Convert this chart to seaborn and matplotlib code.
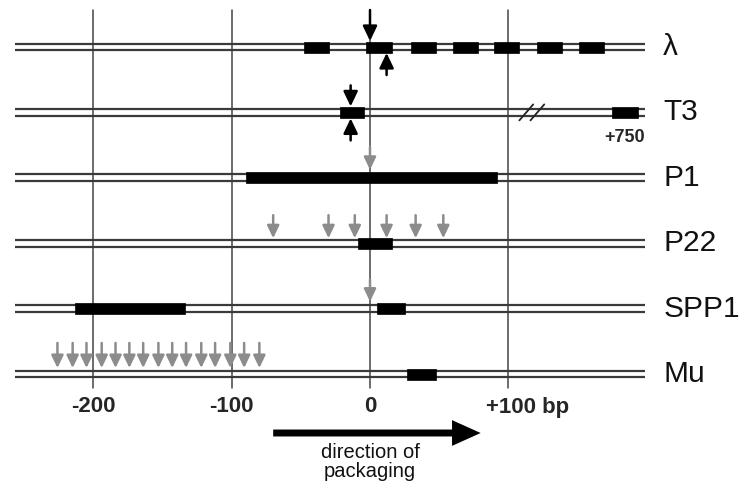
import matplotlib
matplotlib.use("Agg")
import matplotlib.pyplot as plt
import seaborn as sns

# --- data (positions in bp relative to the pac/cos site) ---
phages = ["λ", "T3", "P1", "P22", "SPP1", "Mu"]

lambda_blocks = [(-48, -30), (-3, 16), (30, 48), (60, 78), (90, 108), (121, 139), (151, 169)]
t3_blocks = [(-22, -4), (175, 194)]
p1_blocks = [(-90, 92)]
p22_blocks = [(-9, 16)]
spp1_blocks = [(-213, -134), (5, 25)]
mu_blocks = [(27, 48)]
blocks = [lambda_blocks, t3_blocks, p1_blocks, p22_blocks, spp1_blocks, mu_blocks]

# cut-site arrows: (row, x position, side)
black_arrows = [(0, 0, "above"), (0, 12, "below"), (1, -14, "above"), (1, -14, "below")]
p1_arrows = [0]
p22_arrows = [-70, -30, -11, 12, 33, 53]
spp1_arrows = [0]
mu_arrows = [-226, -215, -205, -194, -184, -174, -164, -153, -143, -133, -122, -112, -101, -91, -80]

grid_ticks = [-200, -100, 0, 100]
tick_labels = ["-200", "-100", "0", "+100 bp"]
dna_start, dna_end = -257, 199
t3_break = 117
packaging_arrow = (-70, 80)

# --- figure ---
sns.set_theme(style="white")
plt.rcParams["font.family"] = ["Liberation Sans", "DejaVu Sans"]

fig = plt.figure(figsize=(7.5, 4.88), dpi=100)
ax = fig.add_axes([0, 0, 1, 1])
PX = 1.383          # pixels per bp
ROW = 65.4          # pixels per row
ax.set_xlim(-370 / PX, 380 / PX)
ax.set_ylim((488 - 47) / ROW, -47 / ROW)
ax.axis("off")


def py(px):
    return px / ROW


# vertical reference lines
for t in grid_ticks:
    ax.plot([t, t], [py(-37), 5 + py(14)], color="#444444", lw=1.1, zorder=1)

for i, name in enumerate(phages):
    # double stranded DNA
    for off in (-3.4, 3.4):
        ax.plot([dna_start, dna_end], [i + py(off)] * 2, color="#3a3a3a", lw=1.6,
                solid_capstyle="butt", zorder=2)
    # sites
    for a, b in blocks[i]:
        ax.barh(i, b - a, left=a, height=py(11), color="black", edgecolor="black",
                linewidth=0.5, zorder=3)
    ax.text(212, i, name, fontsize=21.5, va="center", ha="left", color="#111111")

# T3 break marks and +750 label
for dx in (-4, 4):
    ax.plot([t3_break + dx - 5, t3_break + dx + 5], [1 + py(8), 1 - py(8)],
            color="#222222", lw=1.3, zorder=4)
ax.text(184, 1 + py(25), "+750", fontsize=13, fontweight="bold", ha="center", va="center")


def arrow(x, row, tail, tip, color, scale=15):
    ax.annotate("", xy=(x, row + py(tip)), xytext=(x, row + py(tail)),
                arrowprops=dict(arrowstyle="-|>,head_length=0.5,head_width=0.24",
                                mutation_scale=scale, color=color, lw=1.8,
                                shrinkA=0, shrinkB=0), zorder=5)


for row, x, side in black_arrows:
    if side == "above":
        tail = -37 if row == 0 else -27
        arrow(x, row, tail, -6, "black", 18)
    else:
        arrow(x, row, 28, 6, "black", 18)

gray = "#8c8c8c"
for x in p1_arrows:
    arrow(x, 2, -31, -8, gray)
for x in p22_arrows:
    arrow(x, 3, -28, -5, gray)
for x in spp1_arrows:
    arrow(x, 4, -29, -7, gray)
for x in mu_arrows:
    arrow(x, 5, -31, -6, gray)

# x labels
for t, lab in zip(grid_ticks, tick_labels):
    if lab.endswith("bp"):
        ax.text(t - 16, 5 + py(33), lab, fontsize=16, fontweight="bold", ha="left", va="center")
    else:
        ax.text(t, 5 + py(33), lab, fontsize=16, fontweight="bold", ha="center", va="center")

# direction of packaging
ax.annotate("", xy=(packaging_arrow[1], 5 + py(59)), xytext=(packaging_arrow[0], 5 + py(59)),
            arrowprops=dict(arrowstyle="-|>,head_length=0.8,head_width=0.36",
                            mutation_scale=15, color="black", lw=5, capstyle="butt",
                            joinstyle="miter", shrinkA=0, shrinkB=0))
ax.text(0, 5 + py(88), "direction of\npackaging", fontsize=14.5, ha="center", va="center",
        linespacing=0.95, color="#111111")

fig.savefig("out.png", dpi=100, facecolor="white")
